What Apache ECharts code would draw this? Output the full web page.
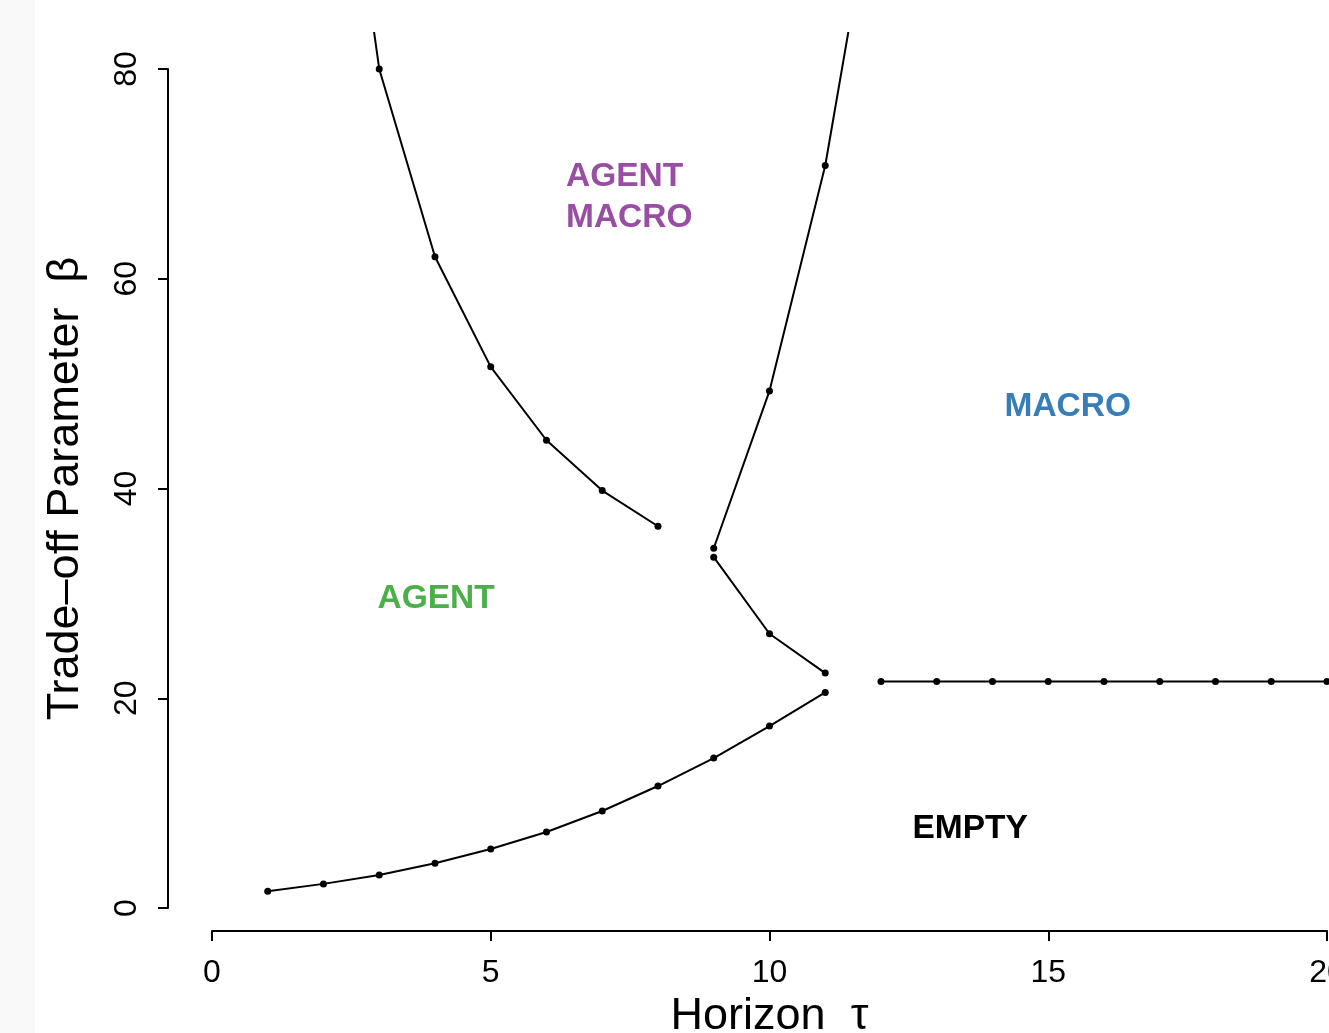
<!DOCTYPE html>
<html>
<head>
<meta charset="utf-8">
<script src="https://cdn.jsdelivr.net/npm/echarts@6/dist/echarts.min.js"></script>
<style>
html,body{margin:0;padding:0;background:#ffffff;}
#chart{width:1329px;height:1033px;}
</style>
</head>
<body>
<div id="chart"></div>
<script>
// ---- data ----
var xTicks = [0, 5, 10, 15, 20];
var yTicks = [0, 20, 40, 60, 80];

// boundary AGENT / AGENT-MACRO (left upper curve)
var upperLeftX = [2, 3, 4, 5, 6, 7, 8];
var upperLeftY = [118, 80, 62.1, 51.6, 44.6, 39.8, 36.4];

// boundary AGENT-MACRO / MACRO (middle upper curve)
var upperMidX = [9, 10, 11, 12];
var upperMidY = [34.3, 49.3, 70.8, 101.5];

// boundary AGENT / MACRO (middle lower curve)
var lowerMidX = [9, 10, 11];
var lowerMidY = [33.45, 26.15, 22.4];

// boundary AGENT / EMPTY (bottom curve)
var bottomX = [1, 2, 3, 4, 5, 6, 7, 8, 9, 10, 11];
var bottomY = [1.6, 2.3, 3.15, 4.27, 5.63, 7.25, 9.25, 11.63, 14.3, 17.35, 20.55];

// boundary MACRO / EMPTY (horizontal)
var flatX = [12, 13, 14, 15, 16, 17, 18, 19, 20];
var flatY = [21.6, 21.6, 21.6, 21.6, 21.6, 21.6, 21.6, 21.6, 21.6];

// region labels
var regionNames = ['AGENT\nMACRO', 'MACRO', 'AGENT', 'EMPTY'];
var regionX = [6.35, 15.35, 4.02, 13.6];
var regionY = [67.75, 47.75, 29.45, 7.52];
var regionColors = ['#984EA3', '#377EB8', '#4DAF4A', '#000000'];

function zip(xs, ys) { return xs.map(function (x, i) { return [x, ys[i]]; }); }

var FONT = '"Liberation Sans", Arial, Helvetica, sans-serif';

var chart = echarts.init(document.getElementById('chart'), null, {renderer: 'canvas'});

function lineSeries(xs, ys) {
  return {
    type: 'line',
    xAxisIndex: 1, yAxisIndex: 1,
    data: zip(xs, ys),
    symbol: 'circle',
    symbolSize: 7,
    showSymbol: true,
    clip: true,
    lineStyle: {color: '#000', width: 2},
    itemStyle: {color: '#000'},
    emphasis: {disabled: true},
    animation: false,
    z: 3
  };
}

var series = [
  lineSeries(upperLeftX, upperLeftY),
  lineSeries(upperMidX, upperMidY),
  lineSeries(lowerMidX, lowerMidY),
  lineSeries(bottomX, bottomY),
  lineSeries(flatX, flatY)
];

series.push({
  type: 'scatter',
  xAxisIndex: 0, yAxisIndex: 0,
  symbolSize: 0,
  silent: true,
  animation: false,
  itemStyle: {opacity: 1},
  emphasis: {disabled: true},
  data: regionNames.map(function (n, i) {
    var isLeft = i === 0;
    return {
      value: [regionX[i], regionY[i]],
      label: {
        show: true,
        formatter: n,
        position: isLeft ? 'right' : 'inside',
        distance: 0,
        align: isLeft ? 'left' : 'center',
        verticalAlign: 'middle',
        color: regionColors[i],
        opacity: 1,
        textBorderWidth: 0,
        fontFamily: FONT,
        fontWeight: 'bold',
        fontSize: 33.5,
        lineHeight: 41
      }
    };
  })
});

var axisLineStyle = {color: '#000', width: 2};

var option = {
  backgroundColor: '#ffffff',
  animation: false,
  graphic: [{
    type: 'rect',
    left: 0, top: 0,
    shape: {width: 35, height: 1033},
    style: {fill: '#f9f9f9'},
    z: -10,
    silent: true
  }],
  grid: [
    {left: 212, right: 2, top: 69, bottom: 125, containLabel: false, outerBoundsMode: 'none'},
    {left: 168, right: 0, top: 33, bottom: 102, containLabel: false, outerBoundsMode: 'none'}
  ],
  xAxis: [
    {
      gridIndex: 0, type: 'value', min: xTicks[0], max: xTicks[xTicks.length - 1], interval: 5,
      offset: 23,
      axisLine: {show: true, onZero: false, lineStyle: axisLineStyle},
      axisTick: {show: true, length: 10, lineStyle: axisLineStyle},
      axisLabel: {show: true, fontSize: 32, fontFamily: FONT, color: '#000', margin: 26,
        showMinLabel: true, showMaxLabel: true},
      splitLine: {show: false},
      name: 'Horizon  \u03C4',
      nameLocation: 'middle',
      nameGap: 63,
      nameTextStyle: {fontSize: 45, fontFamily: FONT, color: '#000'}
    },
    {
      gridIndex: 1, type: 'value', min: -0.789, max: 20.036, show: false
    }
  ],
  yAxis: [
    {
      gridIndex: 0, type: 'value', min: yTicks[0], max: yTicks[yTicks.length - 1], interval: 20,
      offset: 44,
      axisLine: {show: true, onZero: false, lineStyle: axisLineStyle},
      axisTick: {show: true, length: 10, lineStyle: axisLineStyle},
      axisLabel: {show: true, fontSize: 32, fontFamily: FONT, color: '#000', margin: 25, rotate: 90,
        showMinLabel: true, showMaxLabel: true},
      splitLine: {show: false},
      name: 'Trade\u2013off Parameter  \u03B2',
      nameLocation: 'middle',
      nameGap: 80,
      nameRotate: 90,
      nameTextStyle: {fontSize: 45, fontFamily: FONT, color: '#000'}
    },
    {
      gridIndex: 1, type: 'value', min: -2.193, max: 83.43, show: false
    }
  ],
  series: series
};

chart.setOption(option);
</script>
</body>
</html>
